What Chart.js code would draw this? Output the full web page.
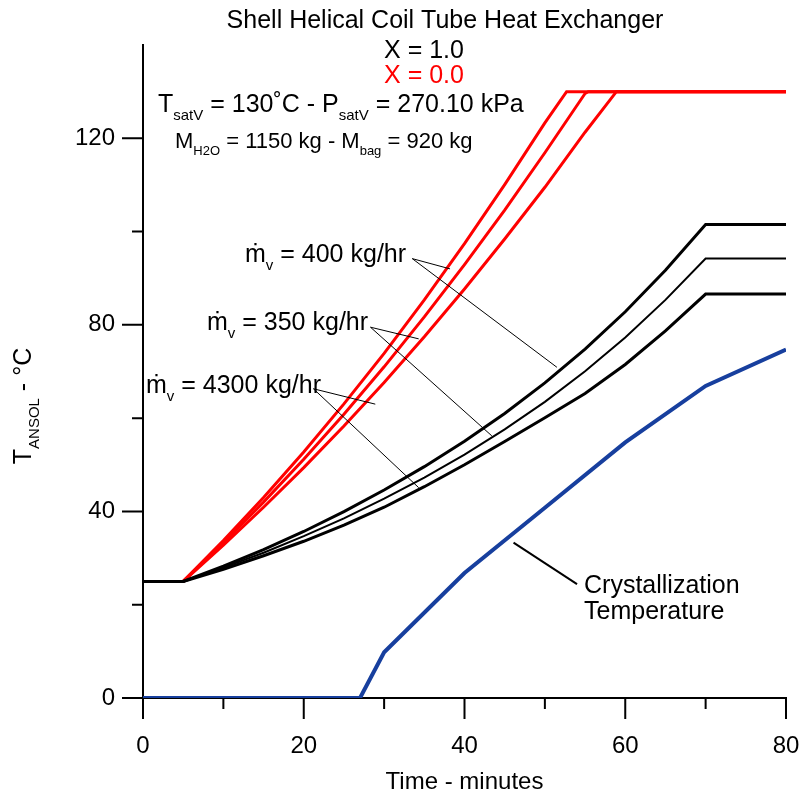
<!DOCTYPE html>
<html>
<head>
<meta charset="utf-8">
<script src="https://cdn.jsdelivr.net/npm/chart.js@4"></script>
<style>
  html, body { margin: 0; padding: 0; background: #fff; }
  canvas { display: block; }
</style>
</head>
<body>
<canvas id="chart" width="799" height="805"></canvas>
<script>
// time axis (minutes) shared by the heating curves
const timeGrid = [0, 5, 10, 15, 20, 25, 30, 35, 40, 45, 50, 55, 60, 65, 70, 80];

// X = 1.0 (black) curves, values at timeGrid
const black400 = [25, 25, 28.25, 31.8, 35.7, 39.95, 44.6, 49.6, 55.05, 61.0, 67.55, 74.8, 82.8, 91.7, 101.5, 101.5];
const black350 = [25, 25, 27.95, 31.15, 34.7, 38.5, 42.75, 47.25, 52.2, 57.6, 63.5, 70.05, 77.3, 85.35, 94.2, 94.2];
const black4300 = [25, 25, 27.6, 30.5, 33.6, 37.05, 40.9, 45.3, 50.0, 55.0, 60.1, 65.3, 71.5, 78.7, 86.6, 86.6];

// X = 0.0 (red) curves
const red400T = [0, 5, 10, 15, 20, 25, 30, 35, 40, 45, 50, 52.7, 80];
const red400 = [25, 25, 33.75, 43.0, 52.75, 63.05, 73.9, 85.35, 97.4, 110.05, 123.3, 130, 130];
const red350T = [0, 5, 10, 15, 20, 25, 30, 35, 40, 45, 50, 55, 55.4, 80];
const red350 = [25, 25, 33.3, 42.0, 51.2, 60.85, 71.0, 81.7, 92.9, 104.6, 116.9, 129.6, 130, 130];
const red4300T = [0, 5, 10, 15, 20, 25, 30, 35, 40, 45, 50, 55, 58.9, 80];
const red4300 = [25, 25, 32.75, 40.9, 49.4, 58.3, 67.65, 77.45, 87.7, 98.4, 109.5, 121.3, 130, 130];

// crystallization temperature (blue)
const crystT = [0, 27, 30, 40, 50, 60, 70, 80];
const crystY = [0, 0, 9.8, 26.8, 40.8, 54.8, 66.9, 74.7];

const xTicks = [0, 10, 20, 30, 40, 50, 60, 70, 80];
const yTicks = [0, 20, 40, 60, 80, 100, 120];

const FONT = '"Liberation Sans", Arial, sans-serif';
const BLUE = '#173f9e';
const RED = '#ff0000';

function pts(xs, ys) {
    return xs.map((x, i) => ({ x: x, y: ys[i] }));
}

function lineSet(label, xs, ys, color, width) {
    return {
        label: label,
        data: pts(xs, ys),
        borderColor: color,
        borderWidth: width,
        pointRadius: 0,
        tension: 0,
        fill: false
    };
}

// text with subscripts: parts = [[text, isSub], ...]
function richText(ctx, parts, x, y, size, color, align) {
    const subSize = Math.round(size * 0.6);
    let total = 0;
    parts.forEach(p => {
        ctx.font = (p[1] ? subSize : size) + 'px ' + FONT;
        total += ctx.measureText(p[0]).width;
    });
    let cx = x;
    if (align === 'center') cx = x - total / 2;
    if (align === 'right') cx = x - total;
    ctx.fillStyle = color;
    ctx.textAlign = 'left';
    ctx.textBaseline = 'alphabetic';
    parts.forEach(p => {
        ctx.font = (p[1] ? subSize : size) + 'px ' + FONT;
        ctx.fillText(p[0], cx, p[1] ? y + size * 0.3 : y);
        cx += ctx.measureText(p[0]).width;
    });
}

// leader lines, in data units: [fromX, fromY, toX, toY]
const leaders = [
    [33.5, 94.2, 38.2, 92.0], [33.5, 94.2, 51.5, 70.9],
    [28.3, 79.5, 34.3, 77.0], [28.3, 79.5, 43.4, 56.2],
    [21.2, 66.3, 28.9, 63.0], [21.2, 66.3, 34.3, 45.1]
];
const crystLeader = [46.1, 33.3, 54.0, 24.4];

const decorPlugin = {
    id: 'decor',
    afterDraw(chart) {
        const ctx = chart.ctx;
        const xs = chart.scales.x, ys = chart.scales.y;
        const x0 = xs.getPixelForValue(0), y0 = ys.getPixelForValue(0);
        ctx.save();

        // tick marks, outward
        ctx.strokeStyle = '#000';
        ctx.lineWidth = 2;
        ctx.beginPath();
        xTicks.forEach(v => {
            const px = xs.getPixelForValue(v);
            const len = v % 20 === 0 ? 21 : 11;
            ctx.moveTo(px, y0);
            ctx.lineTo(px, y0 + len);
        });
        yTicks.forEach(v => {
            const py = ys.getPixelForValue(v);
            const len = v % 40 === 0 ? 21 : 11;
            ctx.moveTo(x0, py);
            ctx.lineTo(x0 - len, py);
        });
        ctx.stroke();

        // leader lines
        ctx.lineWidth = 1;
        ctx.beginPath();
        leaders.forEach(l => {
            ctx.moveTo(xs.getPixelForValue(l[0]), ys.getPixelForValue(l[1]));
            ctx.lineTo(xs.getPixelForValue(l[2]), ys.getPixelForValue(l[3]));
        });
        ctx.stroke();
        ctx.lineWidth = 2;
        ctx.beginPath();
        ctx.moveTo(xs.getPixelForValue(crystLeader[0]), ys.getPixelForValue(crystLeader[1]));
        ctx.lineTo(xs.getPixelForValue(crystLeader[2]), ys.getPixelForValue(crystLeader[3]));
        ctx.stroke();

        // header
        richText(ctx, [['Shell Helical Coil Tube Heat Exchanger', false]], 445, 28, 25, '#000', 'center');
        richText(ctx, [['X = 1.0', false]], 424, 58, 25, '#000', 'center');
        richText(ctx, [['X = 0.0', false]], 424, 83, 25, RED, 'center');
        richText(ctx, [['T', false], ['satV', true], [' = 130˚C - P', false], ['satV', true], [' = 270.10 kPa', false]], 158, 112, 25, '#000', 'left');
        richText(ctx, [['M', false], ['H2O', true], [' = 1150 kg - M', false], ['bag', true], [' = 920 kg', false]], 175, 148, 22, '#000', 'left');

        // curve labels
        richText(ctx, [['ṁ', false], ['v', true], [' = 400 kg/hr', false]], 245, 262, 25, '#000', 'left');
        richText(ctx, [['ṁ', false], ['v', true], [' = 350 kg/hr', false]], 207, 330, 25, '#000', 'left');
        richText(ctx, [['ṁ', false], ['v', true], [' = 4300 kg/hr', false]], 146, 393, 25, '#000', 'left');
        richText(ctx, [['Crystallization', false]], 584, 593, 25, '#000', 'left');
        richText(ctx, [['Temperature', false]], 584, 619, 25, '#000', 'left');

        // y axis title, rotated
        ctx.translate(31, 406);
        ctx.rotate(-Math.PI / 2);
        richText(ctx, [['T', false], ['ANSOL', true], [' - °C', false]], 0, 0, 25, '#000', 'center');
        ctx.restore();
    }
};

new Chart(document.getElementById('chart'), {
    type: 'line',
    data: {
        datasets: [
            lineSet('Crystallization Temperature', crystT, crystY, BLUE, 4),
            lineSet('X=1.0 400 kg/hr', timeGrid, black400, '#000', 3),
            lineSet('X=1.0 350 kg/hr', timeGrid, black350, '#000', 2),
            lineSet('X=1.0 4300 kg/hr', timeGrid, black4300, '#000', 3),
            lineSet('X=0.0 400 kg/hr', red400T, red400, RED, 3),
            lineSet('X=0.0 350 kg/hr', red350T, red350, RED, 3),
            lineSet('X=0.0 4300 kg/hr', red4300T, red4300, RED, 3)
        ]
    },
    options: {
        responsive: false,
        animation: false,
        layout: { padding: { top: 45, right: 13, left: 0, bottom: 0 } },
        plugins: {
            legend: { display: false },
            tooltip: { enabled: false }
        },
        scales: {
            x: {
                type: 'linear',
                min: 0,
                max: 80,
                afterFit: s => { s.height = 107; s.paddingLeft = 0; s.paddingRight = 0; },
                afterBuildTicks: s => { s.ticks = [0, 20, 40, 60, 80].map(v => ({ value: v })); },
                ticks: {
                    color: '#000',
                    font: { family: FONT, size: 24 },
                    padding: 26,
                    maxRotation: 0
                },
                grid: { display: false },
                border: { display: true, color: '#000', width: 2 },
                title: {
                    display: true,
                    text: 'Time - minutes',
                    color: '#000',
                    font: { family: FONT, size: 24 },
                    padding: { top: 0, bottom: 8 }
                }
            },
            y: {
                type: 'linear',
                min: 0,
                max: 140,
                afterFit: s => { s.width = 143; s.paddingTop = 0; s.paddingBottom = 0; },
                afterBuildTicks: s => { s.ticks = [0, 40, 80, 120].map(v => ({ value: v })); },
                ticks: {
                    color: '#000',
                    font: { family: FONT, size: 24 },
                    padding: 20
                },
                grid: { display: false },
                border: { display: true, color: '#000', width: 2 }
            }
        }
    },
    plugins: [decorPlugin]
});
</script>
</body>
</html>
